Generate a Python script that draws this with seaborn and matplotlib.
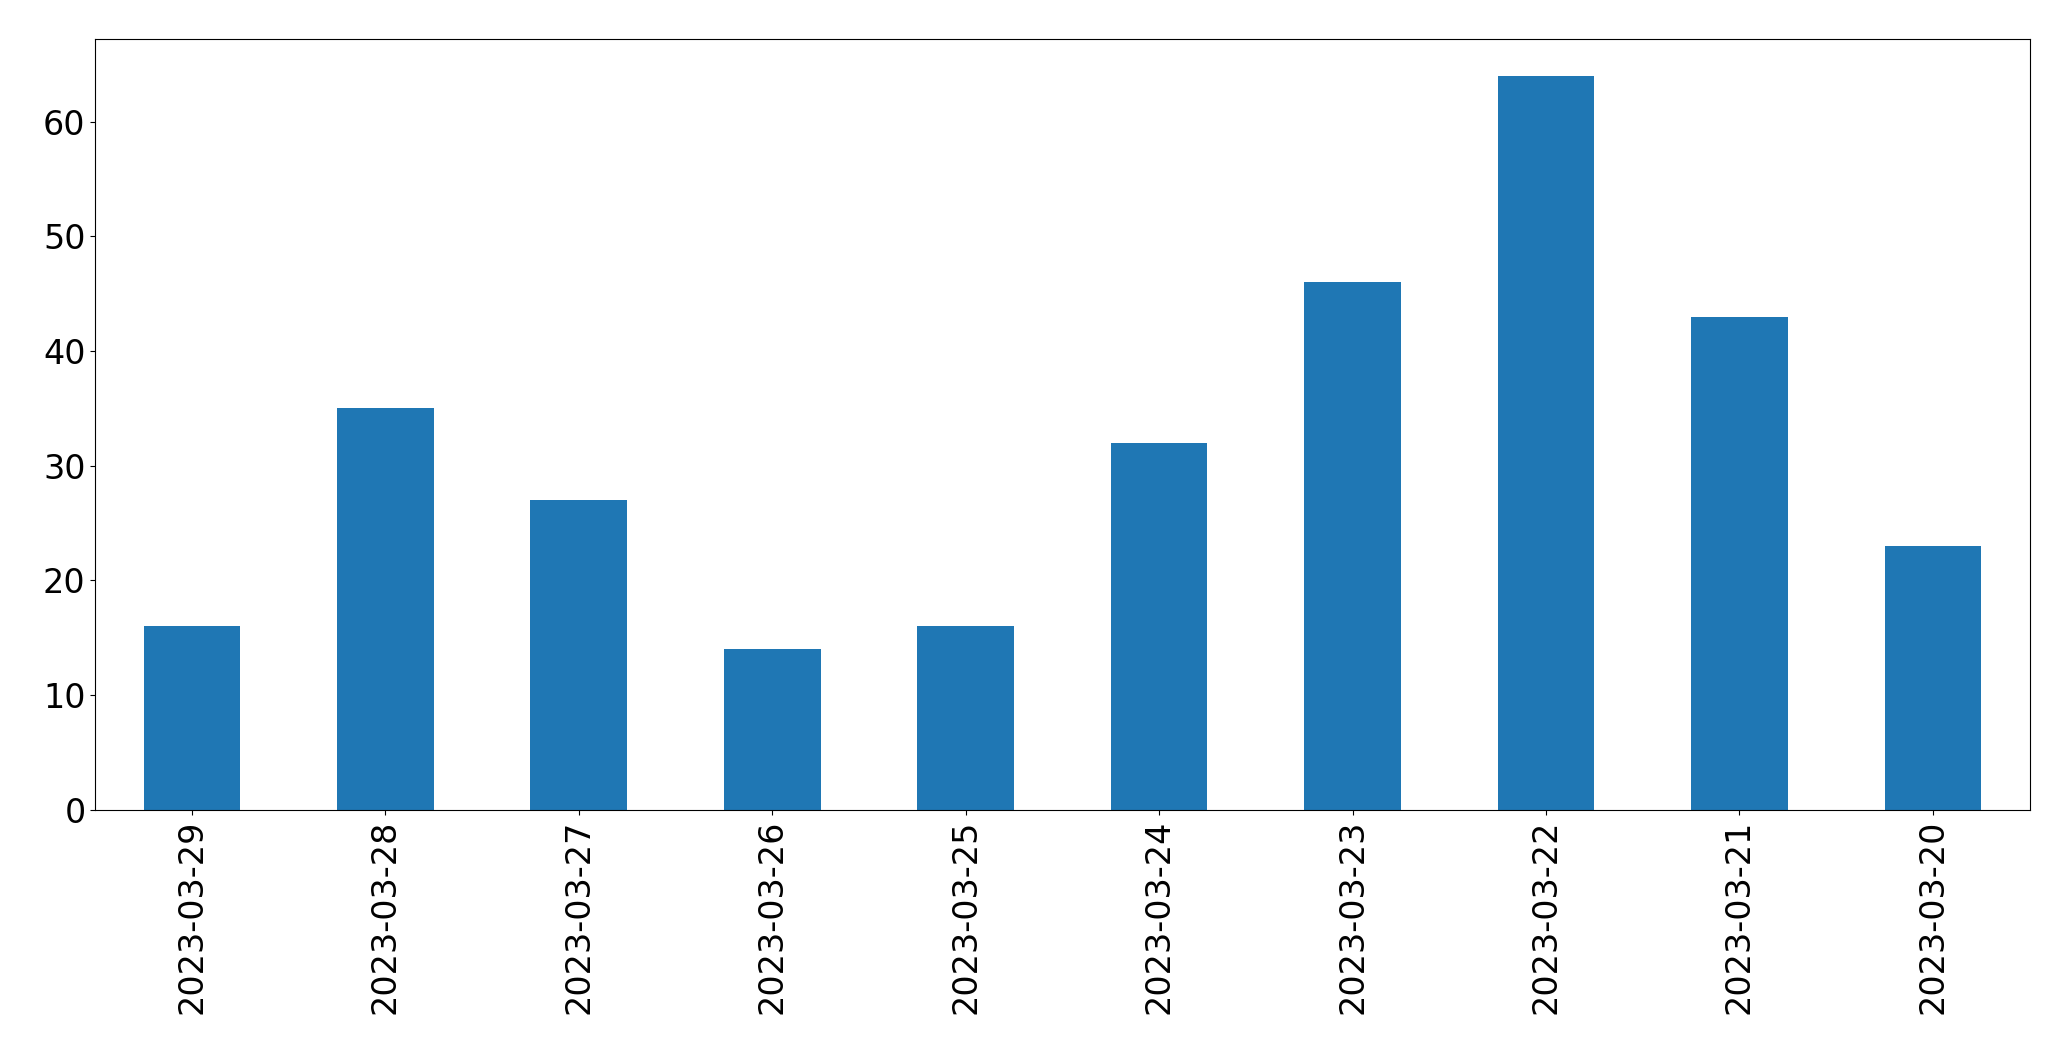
import matplotlib
matplotlib.use("Agg")
import matplotlib.pyplot as plt
import seaborn as sns
import pandas as pd

dates = ["2023-03-29","2023-03-28","2023-03-27","2023-03-26","2023-03-25",
         "2023-03-24","2023-03-23","2023-03-22","2023-03-21","2023-03-20"]
counts = [16, 35, 27, 14, 16, 32, 46, 64, 43, 23]

df = pd.DataFrame({"date": dates, "count": counts})

fig = plt.figure(figsize=(20.71, 10.61), dpi=100)
ax = fig.add_axes([0.046, 0.237, 0.934, 0.726])
sns.barplot(data=df, x="date", y="count", color="#1f77b4", saturation=1,
            width=0.5, ax=ax, order=dates)
ax.set_xlabel("")
ax.set_ylabel("")
ax.set_xlim(-0.5, len(dates) - 0.5)
ax.tick_params(axis="both", labelsize=24)
ax.tick_params(axis="x", rotation=90)
fig.savefig("out.png", dpi=100)
